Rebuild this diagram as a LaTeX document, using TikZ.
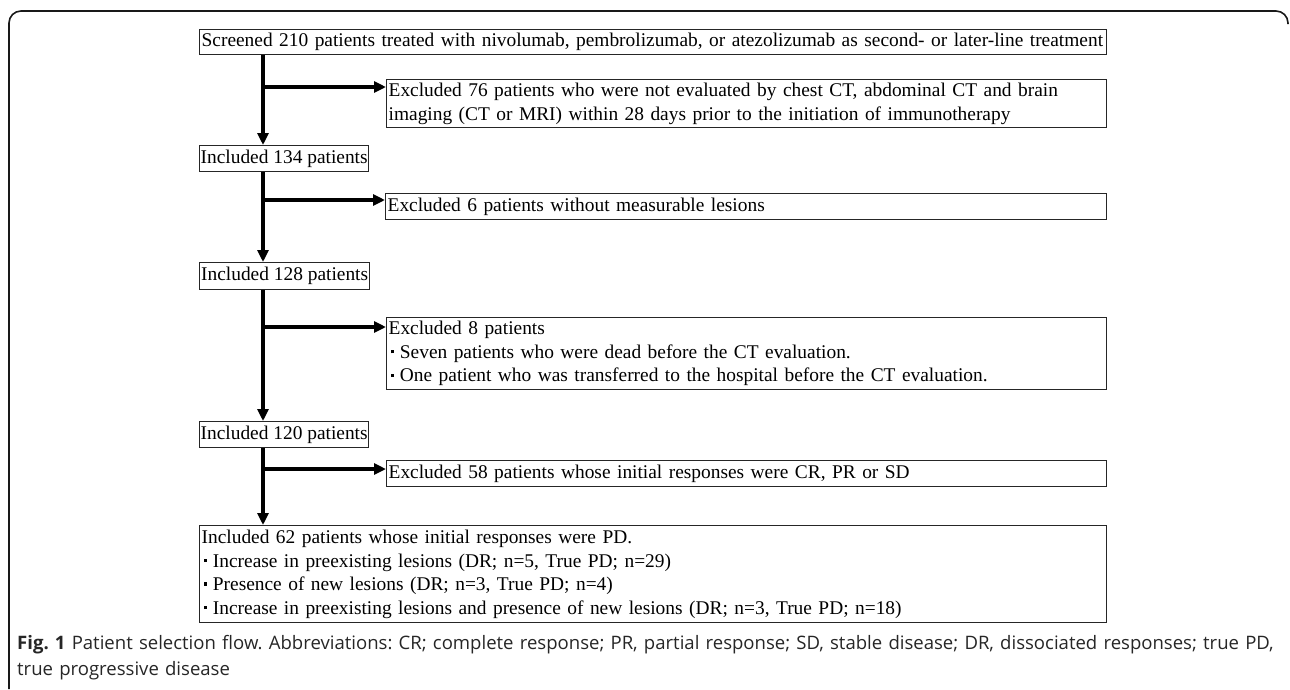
\documentclass[tikz,border=0pt]{standalone}
\usepackage{fontspec}
\setmainfont{Liberation Serif}
\newfontfamily\capfont{Open Sans}
\usetikzlibrary{arrows.meta}
\frenchspacing
\newcommand\bul{\makebox[0.58em][l]{\hspace{0.1em}\raisebox{0.25em}{\rule{0.17em}{0.17em}}}}
\tikzset{
  box/.style={draw=black!85, line width=1.3pt, inner xsep=2pt, inner ysep=0pt,
    anchor=north west, align=left, font=\fontsize{19.4}{23.5}\selectfont},
  sbox/.style={box, align=center},
  flow/.style={line width=3.6pt, black},
  arr/.style={flow, -{Triangle[length=12pt,width=11pt]}},
  frame/.style={line width=1.6pt, black!90, rounded corners=12pt}
}
\begin{document}
\begin{tikzpicture}[x=1pt,y=-1pt]
\useasboundingbox (0,0) rectangle (1290,689);
\draw[frame] (9,689) -- (9,11) -- (1288,11) -- (1288,24);

\node[box, text width=903pt, minimum height=25pt] (b1) at (199,29) {Screened 210 patients treated with nivolumab, pembrolizumab, or atezolizumab as second- or later-line treatment};
\node[box, text width=716pt, minimum height=48pt] (b2) at (386,79) {Excluded 76 patients who were not evaluated by chest CT, abdominal CT and brain\\imaging (CT or MRI) within 28 days prior to the initiation of immunotherapy};
\node[sbox, inner xsep=1pt, minimum width=169pt, minimum height=26pt] (b3) at (199,145) {Included 134 patients};
\node[box, text width=717pt, minimum height=26pt] (b4) at (385,193) {Excluded 6 patients without measurable lesions};
\node[sbox, inner xsep=1pt, minimum width=170pt, minimum height=27pt] (b5) at (199,262) {Included 128 patients};
\node[box, text width=716pt, minimum height=72pt] (b6) at (386,317) {Excluded 8 patients\\\bul Seven patients who were dead before the CT evaluation.\\\bul One patient who was transferred to the hospital before the CT evaluation.};
\node[sbox, inner xsep=1pt, minimum width=169pt, minimum height=26pt] (b7) at (199,421) {Included 120 patients};
\node[box, text width=716pt, minimum height=26pt] (b8) at (386,460) {Excluded 58 patients whose initial responses were CR, PR or SD};
\node[box, text width=903pt, minimum height=97pt] (b9) at (199,525) {Included 62 patients whose initial responses were PD.\\\bul Increase in preexisting lesions (DR; n=5, True PD; n=29)\\\bul Presence of new lesions (DR; n=3, True PD; n=4)\\\bul Increase in preexisting lesions and presence of new lesions (DR; n=3, True PD; n=18)};

\coordinate (sp) at (263,0);
\coordinate (j1) at (263,87);
\coordinate (j2) at (263,200);
\coordinate (j3) at (263,327);
\coordinate (j4) at (263,469);

\draw[arr] (b1.south -| sp) -- (b3.north -| sp);
\draw[arr] (b3.south -| sp) -- (b5.north -| sp);
\draw[arr] (b5.south -| sp) -- (b7.north -| sp);
\draw[arr] (b7.south -| sp) -- (b9.north -| sp);
\draw[arr] (j1) -- (j1 -| b2.west);
\draw[arr] (j2) -- (j2 -| b4.west);
\draw[arr] (j3) -- (j3 -| b6.west);
\draw[arr] (j4) -- (j4 -| b8.west);

\node[anchor=north west, inner sep=0pt, align=left, text width=1268pt, text=black!85,
  font=\capfont\fontsize{18.55}{26}\selectfont] (cap) at (17,635)
  {\textbf{Fig. 1} Patient selection flow. Abbreviations: CR; complete response; PR, partial response; SD, stable disease; DR, dissociated responses; true PD,\\true progressive disease};
\end{tikzpicture}
\end{document}
